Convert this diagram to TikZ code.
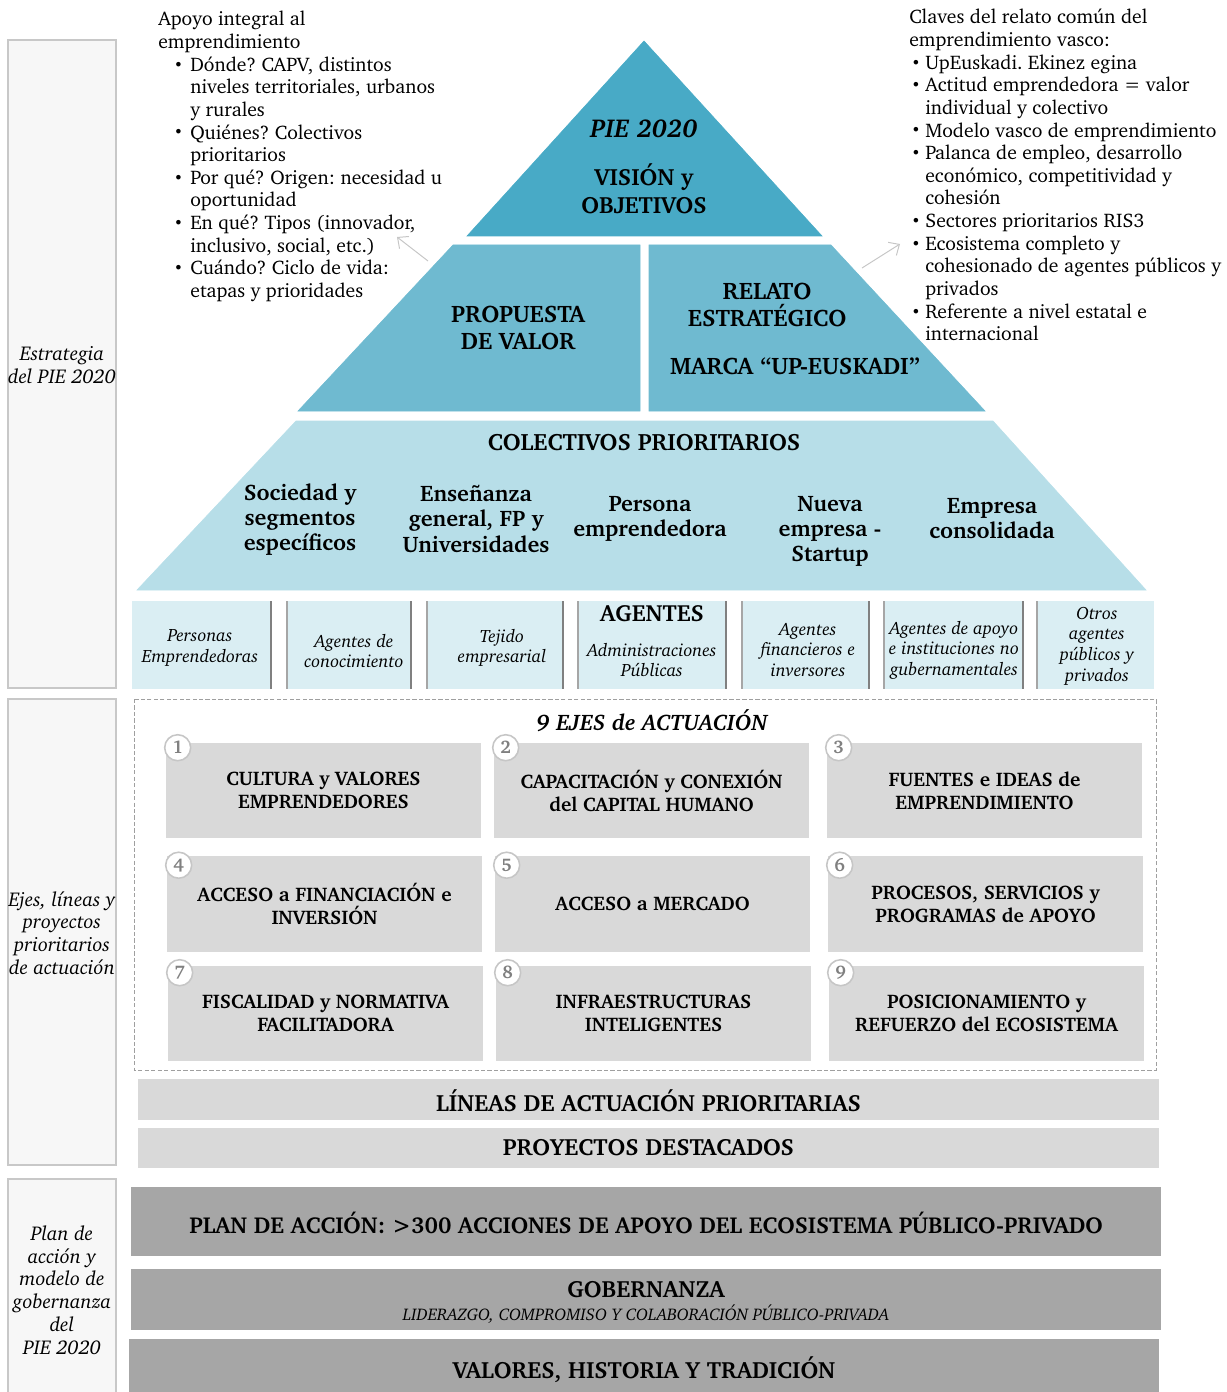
\documentclass[tikz,border=0pt]{standalone}
\usepackage[T1]{fontenc}
\usepackage{charter}
\usepackage{tikz}
\usetikzlibrary{arrows.meta}
\frenchspacing

\definecolor{visionblue}{RGB}{72,170,198}
\definecolor{midblue}{RGB}{111,186,208}
\definecolor{lightblue}{RGB}{183,222,232}
\definecolor{agentblue}{RGB}{218,238,243}
\definecolor{ejegray}{RGB}{217,217,217}
\definecolor{bargray}{RGB}{166,166,166}
\definecolor{sidegray}{RGB}{247,247,247}
\definecolor{sideline}{RGB}{200,200,200}

% bullets for the two callout lists
\newcommand{\smbul}{\raisebox{0.12ex}{\scalebox{0.8}{\textbullet}}}
\newcommand{\lbul}{\makebox[22.8pt][l]{\hspace{11pt}\smbul}}
\newcommand{\lcnt}{\hspace*{22.8pt}}
\newcommand{\rbul}{\makebox[11.4pt][l]{\hspace{1.5pt}\smbul}}
\newcommand{\rcnt}{\hspace*{11.4pt}}

\tikzset{
  sidebox/.style={fill=sidegray, draw=sideline, line width=1.2pt},
  sidelabel/.style={align=center, inner sep=0pt, font=\itshape\fontsize{14.2}{16.2}\selectfont},
  callout/.style={align=left, inner sep=0pt, anchor=north west, font=\fontsize{14}{16.1}\selectfont},
  pointer/.style={-{Straight Barb[length=6pt,width=11pt]}, draw=gray!45, line width=0.7pt},
  toptext/.style={align=center, inner sep=0pt, font=\bfseries\fontsize{16.7}{20}\selectfont},
  tiertext/.style={align=center, inner sep=0pt, font=\bfseries\fontsize{17}{19.4}\selectfont},
  coltext/.style={align=center, inner sep=0pt, font=\bfseries\fontsize{16}{17.8}\selectfont},
  agtext/.style={align=center, inner sep=0pt, font=\itshape\fontsize{12.7}{14.6}\selectfont},
  sepdark/.style={draw=gray, line width=1.3pt},
  seplight/.style={draw=gray!70, line width=0.8pt},
  ejebox/.style={rectangle, fill=ejegray, inner sep=0pt, align=center,
                 minimum width=7.875cm, minimum height=2.375cm,
                 font=\bfseries\fontsize{14}{16.4}\selectfont},
  numcirc/.style={circle, draw=gray!45, line width=1.1pt, fill=white, inner sep=0pt,
                  minimum size=0.65cm, text=gray, font=\bfseries\fontsize{13}{13}\selectfont},
  bartext/.style={inner sep=0pt, font=\bfseries\fontsize{16.7}{18}\selectfont}
}

\begin{document}
\begin{tikzpicture}[x=0.025cm, y=-0.025cm]
    \useasboundingbox (0,0) rectangle (1226,1392);
    \clip (0,0) rectangle (1226,1392);

    %% Side boxes with labels
    \draw [sidebox] (8,40) rectangle (116,688);
    \draw [sidebox] (8,699) rectangle (116,1165);
    \draw [sidebox] (8,1179) rectangle (116,1410);
    \node (lblstrat) [sidelabel] at (62,365) {Estrategia\\del PIE 2020};
    \node (lblejes) [sidelabel] at (62,933) {Ejes, líneas y\\proyectos\\prioritarios\\de actuación};
    \node (lblplan) [sidelabel] at (62,1290) {Plan de\\acción y\\modelo de\\gobernanza\\del\\PIE 2020};

    %% Pyramid
    % Top: vision
    \draw [fill=visionblue, draw=visionblue] (644,41) -- (822,236) -- (467,236) -- cycle;
    \node (pie) [toptext, font=\bfseries\itshape\fontsize{18.4}{20}\selectfont] at (644,129) {PIE 2020};
    \node (vision) [toptext] at (644,189) {VISIÓN y\\OBJETIVOS};

    % Middle: value proposition and story
    \draw [fill=midblue, draw=midblue] (453,245) -- (640,245) -- (640,411) -- (298,411) -- cycle;
    \draw [fill=midblue, draw=midblue] (649,245) -- (831,245) -- (985,411) -- (649,411) -- cycle;
    \node (propuesta) [tiertext] at (518,328) {PROPUESTA\\DE VALOR};
    \node (relato) [tiertext] at (767,305) {RELATO\\ESTRATÉGICO};
    \node (marca) [tiertext] at (795,366) {MARCA ``UP-EUSKADI''};

    % Bottom: priority groups
    \draw [fill=lightblue, draw=lightblue] (296,421) -- (993,421) -- (1146,590) -- (137,590) -- cycle;
    \node (colectivos) [coltext, font=\bfseries\fontsize{16.8}{18}\selectfont] at (644,443) {COLECTIVOS PRIORITARIOS};
    \node (sociedad) [coltext] at (300,519) {Sociedad y\\segmentos\\específicos};
    \node (ensenanza) [coltext] at (476,519) {Enseñanza\\general, FP y\\Universidades};
    \node (persona) [coltext] at (650,518.5) {Persona\\emprendedora};
    \node (nueva) [coltext] at (830,531) {Nueva\\empresa -\\Startup};
    \node (empresa) [coltext] at (992,518.5) {Empresa\\consolidada};

    %% Callouts
    \node (apoyo) [callout] at (158,11) {Apoyo integral al\\emprendimiento\\
        \lbul Dónde? CAPV, distintos\\\lcnt niveles territoriales, urbanos\\\lcnt y rurales\\
        \lbul Quiénes? Colectivos\\\lcnt prioritarios\\
        \lbul Por qué? Origen: necesidad u\\\lcnt oportunidad\\
        \lbul En qué? Tipos (innovador,\\\lcnt inclusivo, social, etc.)\\
        \lbul Cuándo? Ciclo de vida:\\\lcnt etapas y prioridades};
    \node (claves) [callout] at (909,9) {Claves del relato común del\\emprendimiento vasco:\\
        \rbul UpEuskadi. Ekinez egina\\
        \rbul Actitud emprendedora = valor\\\rcnt individual y colectivo\\
        \rbul Modelo vasco de emprendimiento\\
        \rbul Palanca de empleo, desarrollo\\\rcnt económico, competitividad y\\\rcnt cohesión\\
        \rbul Sectores prioritarios RIS3\\
        \rbul Ecosistema completo y\\\rcnt cohesionado de agentes públicos y\\\rcnt privados\\
        \rbul Referente a nivel estatal e\\\rcnt internacional};
    % Pointers from the pyramid to the callouts
    \coordinate (ptrLs) at (428,261);
    \coordinate (ptrLe) at (397,237);
    \coordinate (ptrRs) at (862,268);
    \coordinate (ptrRe) at (900,244);
    \draw [pointer] (ptrLs) -- (ptrLe);
    \draw [pointer] (ptrRs) -- (ptrRe);

    %% Agents row
    \foreach \xa/\xb in {132/271, 287/411, 427/563, 578/726, 742/869, 884/1023, 1037/1154}
        \fill [agentblue] (\xa,601) rectangle (\xb,689);
    \foreach \xa in {287, 427, 578, 742, 884, 1037}
        \draw [seplight] (\xa,601) -- (\xa,689);
    \foreach \xb in {271, 411, 563, 726, 869, 1023}
        \draw [sepdark] (\xb,601) -- (\xb,689);
    \node (agpers) [agtext] at (200,648) {Personas\\Emprendedoras};
    \node (agconoc) [agtext] at (354,651) {Agentes de\\conocimiento};
    \node (agtejido) [agtext] at (502,648) {Tejido\\empresarial};
    \node (agentes) [inner sep=0pt, font=\bfseries\fontsize{16.6}{18}\selectfont] at (652,614) {AGENTES};
    \node (agadmin) [agtext] at (652,660) {Administraciones\\Públicas};
    \node (agfin) [agtext] at (808,650) {Agentes\\financieros e\\inversores};
    \node (agapoyo) [agtext] at (954,650) {Agentes de apoyo\\e instituciones no\\gubernamentales};
    \node (agotros) [agtext] at (1097,646) {Otros\\agentes\\públicos y\\privados};

    %% 9 ejes
    \draw [draw=gray!75, line width=0.6pt, dash pattern=on 3pt off 1.6pt] (134,699) rectangle (1156,1070);
    \node (ejes) [inner sep=0pt, font=\bfseries\itshape\fontsize{16}{17}\selectfont] at (652,721) {9 EJES de ACTUACIÓN};

    \node (eje1) [ejebox] at (323.5,790.5) {CULTURA y VALORES\\EMPRENDEDORES};
    \node (eje2) [ejebox] at (651.5,790.5) {CAPACITACIÓN y CONEXIÓN\\del CAPITAL HUMANO};
    \node (eje3) [ejebox] at (984.5,790.5) {FUENTES e IDEAS de\\EMPRENDIMIENTO};
    \node (eje4) [ejebox] at (324.5,904) {ACCESO a FINANCIACIÓN e\\INVERSIÓN};
    \node (eje5) [ejebox] at (652.5,904) {ACCESO a MERCADO};
    \node (eje6) [ejebox] at (985.5,904) {PROCESOS, SERVICIOS y\\PROGRAMAS de APOYO};
    \node (eje7) [ejebox] at (325.5,1013.5) {FISCALIDAD y NORMATIVA\\FACILITADORA};
    \node (eje8) [ejebox] at (653.5,1013.5) {INFRAESTRUCTURAS\\INTELIGENTES};
    \node (eje9) [ejebox] at (986.5,1013.5) {POSICIONAMIENTO y\\REFUERZO del ECOSISTEMA};

    % Numbers on the corners
    \foreach \n/\dy in {1/5, 2/5, 3/5, 4/9, 5/9, 6/9, 7/7, 8/7, 9/7}
        \node (num\n) [numcirc] at ([shift={(12,\dy)}]eje\n.north west) {\n};

    %% Lines and projects
    \fill [ejegray] (138,1079) rectangle (1159,1120);
    \node (lineas) [bartext] at (648.5,1101) {LÍNEAS DE ACTUACIÓN PRIORITARIAS};
    \fill [ejegray] (138,1128) rectangle (1159,1168);
    \node (proyectos) [bartext] at (648.5,1148) {PROYECTOS DESTACADOS};

    %% Action plan, governance, values
    \fill [bargray] (131,1187) rectangle (1161,1256);
    \node (plan) [bartext, font=\bfseries\fontsize{16.4}{18}\selectfont] at (646,1223) {PLAN DE ACCIÓN: >300 ACCIONES DE APOYO DEL ECOSISTEMA PÚBLICO-PRIVADO};
    \fill [bargray] (131,1269) rectangle (1161,1330);
    \node (gobernanza) [bartext] at (646,1290) {GOBERNANZA};
    \node (liderazgo) [inner sep=0pt, font=\itshape\fontsize{12}{13}\selectfont] at (646,1314) {LIDERAZGO, COMPROMISO Y COLABORACIÓN PÚBLICO-PRIVADA};
    \fill [bargray] (129,1339) rectangle (1159,1410);
    \node (valores) [bartext] at (644,1370) {VALORES, HISTORIA Y TRADICIÓN};

\end{tikzpicture}
\end{document}
